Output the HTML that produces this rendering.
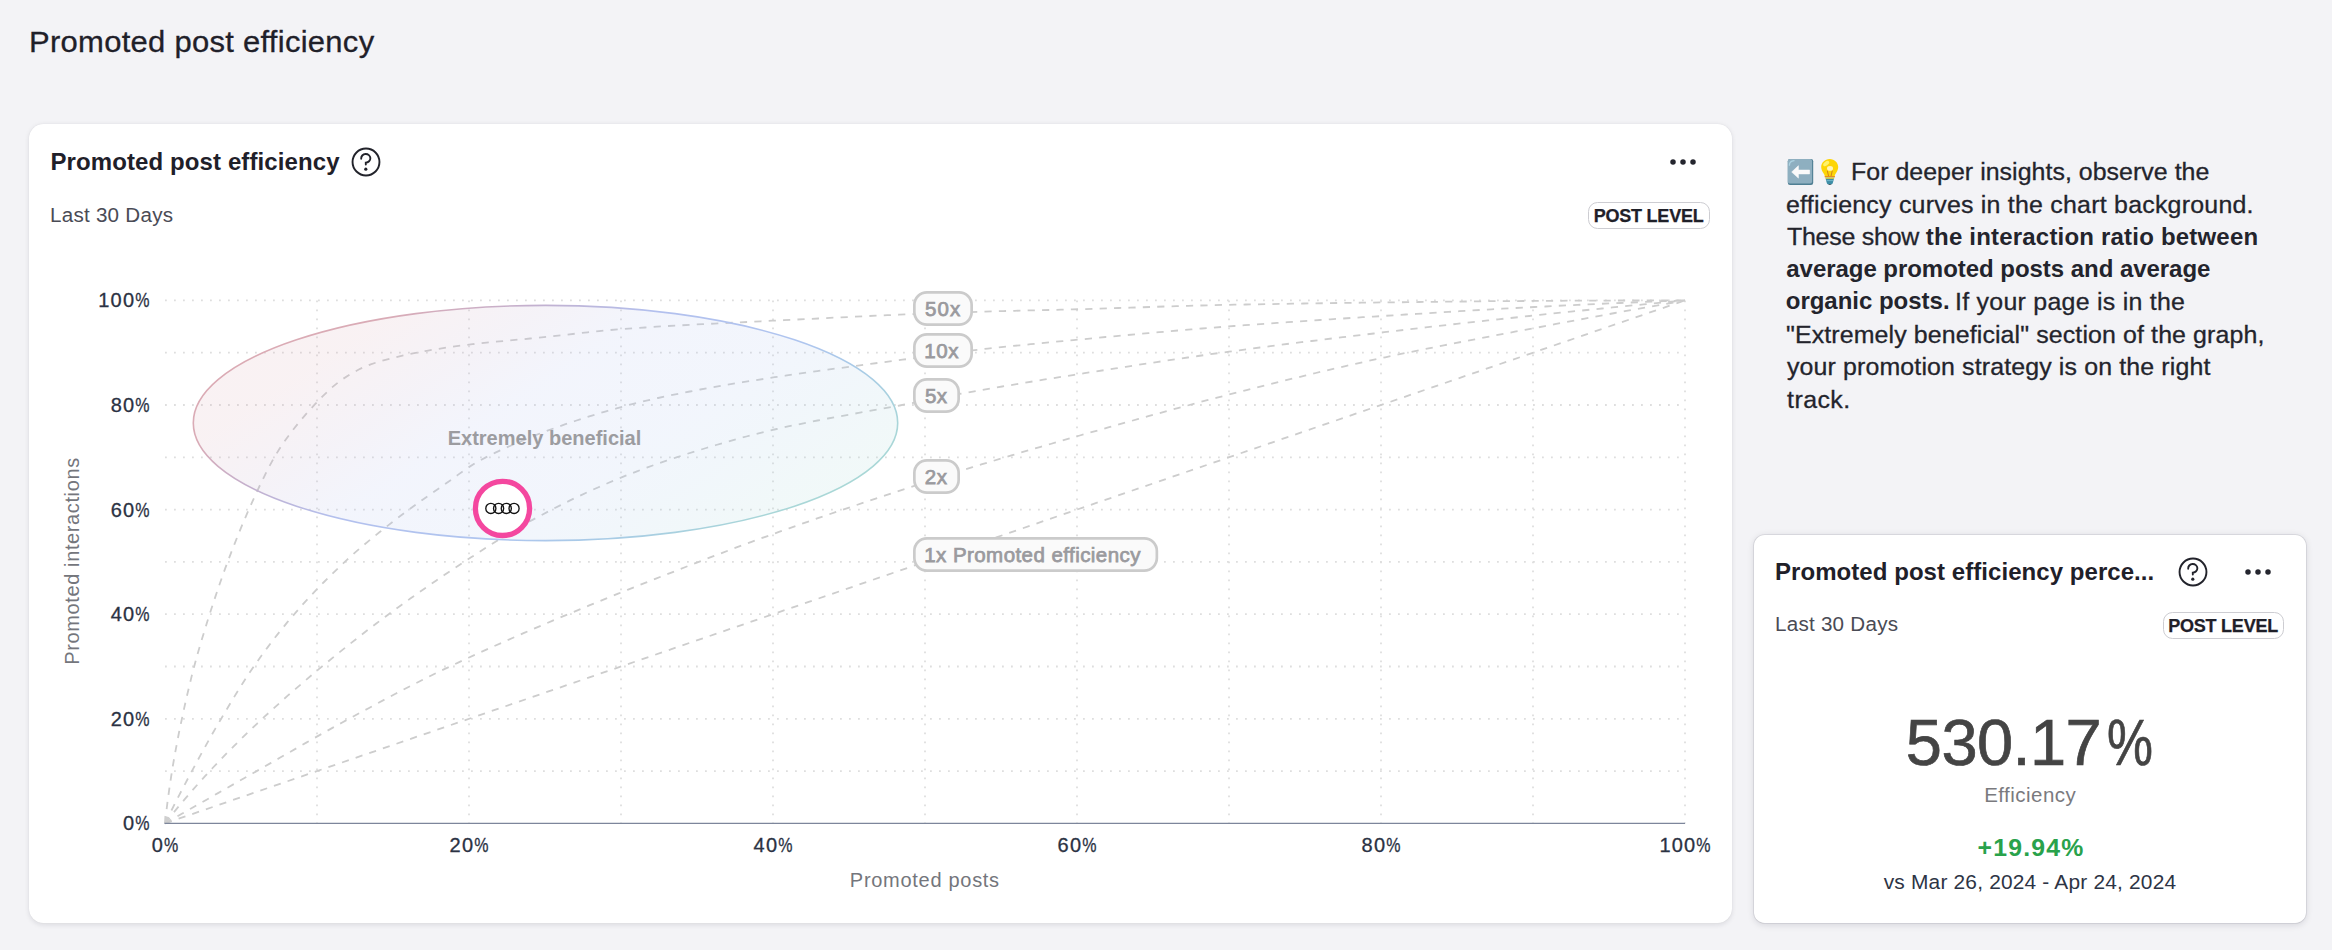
<!DOCTYPE html>
<html lang="en"><head><meta charset="utf-8"><title>Promoted post efficiency</title>
<style>
html,body{margin:0;padding:0}
body{width:2332px;height:950px;overflow:hidden;background:#f3f3f6;font-family:"Liberation Sans",Arial,sans-serif;position:relative}
.abs{position:absolute}
.t{position:absolute;white-space:nowrap;display:block}
.sr{position:absolute;left:1787px;top:160px;width:1px;height:1px;overflow:hidden;clip:rect(0 0 0 0);clip-path:inset(50%);white-space:nowrap;font-size:1px;opacity:0}
.k{-webkit-text-stroke:.3px currentColor}
.k1{-webkit-text-stroke:.25px currentColor}
.k2{-webkit-text-stroke:.7px currentColor}
.card{position:absolute;background:#fff;border-radius:14.4px;box-shadow:0 1.8px 5.4px rgba(15,15,35,.10),0 0 1px rgba(15,15,35,.10)}
.card.b{border-radius:10.8px;box-shadow:0 1.5px 7px rgba(15,15,35,.13),0 0 0 .8px rgba(15,15,35,.10)}
.chart{position:absolute;left:0;top:0}
.chart text{font-family:"Liberation Sans",Arial,sans-serif}
.badge{position:absolute;width:119.6px;height:24.6px;border:1px solid #cdcdd2;border-radius:9.5px;background:#fff}
h1,h2,p{margin:0;font-weight:400}
</style></head><body>
<h1><span class="t k" style="left:28.62px;top:24.08px;font-size:29.5px;line-height:35.4px;color:#1f2029;letter-spacing:0.270px;transform-origin:0 0;transform:scaleX(1.05);">Promoted post efficiency</span></h1>
<section class="card" style="left:29px;top:124px;width:1703px;height:799px"></section>
<section class="card b" style="left:1754px;top:535px;width:552.4px;height:388px"></section>
<h2><span class="t" style="left:50.44px;top:147.88px;font-size:24px;line-height:28.8px;color:#1f2029;letter-spacing:0.104px;font-weight:700;">Promoted post efficiency</span></h2>
<svg class="abs" style="left:350.30px;top:146.00px" width="32" height="32" viewBox="0 0 32 32" role="img" aria-label="Help"><g fill="none" stroke="#22232b" stroke-width="1.9"><circle cx="16" cy="16" r="13.45"/><path d="M11.2 12.7A4.6 4.3 0 1 1 15.8 16.6V18.6" stroke-linecap="round"/></g><circle cx="15.8" cy="23.2" r="1.6" fill="#22232b"/></svg>
<svg class="abs" style="left:1667.1px;top:156.1px" width="32" height="12" viewBox="0 0 32 12" role="img" aria-label="More"><circle cx="6" cy="6" r="2.75" fill="#24252e"/><circle cx="16" cy="6" r="2.75" fill="#24252e"/><circle cx="26" cy="6" r="2.75" fill="#24252e"/></svg>
<span class="t" style="left:50.25px;top:202.67px;font-size:20px;line-height:24.0px;color:#4a4b55;letter-spacing:0.244px;transform-origin:0 0;transform:scaleX(1.03);">Last 30 Days</span>
<div class="badge" style="left:1588px;top:202px"><span class="t k1" style="left:4.73px;top:2.76px;font-size:18px;line-height:21.6px;color:#1f2029;letter-spacing:-0.227px;font-weight:700;">POST LEVEL</span></div>
<svg class="chart" width="2332" height="950" viewBox="0 0 2332 950" role="img" aria-label="Promoted post efficiency chart">
<defs>
<linearGradient id="eg" x1="0" y1="0" x2="1.198" y2="0.614">
<stop offset="0" stop-color="#deabb2"/><stop offset="0.2" stop-color="#d9abb6"/><stop offset="0.33" stop-color="#c1b1d1"/><stop offset="0.44" stop-color="#b3c0ee"/><stop offset="0.62" stop-color="#afc5ef"/><stop offset="0.72" stop-color="#a8cbe6"/><stop offset="0.84" stop-color="#a9d6d8"/><stop offset="1" stop-color="#aaddd0"/>
</linearGradient>
</defs>
<g stroke="#dedede" stroke-width="1.8" stroke-dasharray="1.8 7.2" fill="none"><line x1="165.0" y1="771.1" x2="1685.0" y2="771.1"/><line x1="165.0" y1="718.8" x2="1685.0" y2="718.8"/><line x1="165.0" y1="666.5" x2="1685.0" y2="666.5"/><line x1="165.0" y1="614.2" x2="1685.0" y2="614.2"/><line x1="165.0" y1="561.9" x2="1685.0" y2="561.9"/><line x1="165.0" y1="509.6" x2="1685.0" y2="509.6"/><line x1="165.0" y1="457.3" x2="1685.0" y2="457.3"/><line x1="165.0" y1="405.0" x2="1685.0" y2="405.0"/><line x1="165.0" y1="352.7" x2="1685.0" y2="352.7"/><line x1="165.0" y1="300.4" x2="1685.0" y2="300.4"/><line x1="317.0" y1="300.4" x2="317.0" y2="823.4"/><line x1="469.0" y1="300.4" x2="469.0" y2="823.4"/><line x1="621.0" y1="300.4" x2="621.0" y2="823.4"/><line x1="773.0" y1="300.4" x2="773.0" y2="823.4"/><line x1="925.0" y1="300.4" x2="925.0" y2="823.4"/><line x1="1077.0" y1="300.4" x2="1077.0" y2="823.4"/><line x1="1229.0" y1="300.4" x2="1229.0" y2="823.4"/><line x1="1381.0" y1="300.4" x2="1381.0" y2="823.4"/><line x1="1533.0" y1="300.4" x2="1533.0" y2="823.4"/><line x1="1685.0" y1="300.4" x2="1685.0" y2="823.4"/></g>
<g stroke="#cdcdcd" stroke-width="1.8" stroke-dasharray="7.2 7.2" fill="none"><path d="M165.0,823.4 L1685.0,300.4"/><path d="M165.0,823.4 L173.8,818.3 L182.7,813.3 L191.5,808.2 L200.3,803.2 L209.2,798.2 L218.0,793.1 L226.8,788.1 L235.7,783.0 L244.5,778.0 L253.3,773.0 L262.2,768.0 L271.0,762.9 L279.8,757.8 L288.7,752.8 L297.5,747.7 L306.3,742.6 L315.1,737.6 L324.0,732.6 L332.9,727.6 L341.8,722.7 L350.7,717.8 L359.6,713.0 L368.6,708.2 L377.6,703.3 L386.5,698.5 L395.5,693.8 L404.6,689.0 L413.6,684.4 L422.7,679.8 L431.8,675.2 L440.9,670.8 L450.1,666.4 L459.2,662.1 L468.5,657.8 L477.7,653.6 L486.9,649.4 L496.2,645.2 L505.5,641.1 L514.8,637.0 L524.1,632.9 L533.5,628.9 L542.8,624.9 L552.2,620.9 L561.6,616.9 L571.0,613.0 L580.4,609.1 L589.8,605.2 L599.2,601.4 L608.6,597.5 L618.1,593.7 L627.5,589.9 L637.0,586.1 L646.4,582.4 L655.9,578.6 L665.4,574.9 L674.9,571.2 L684.3,567.5 L693.8,563.8 L703.3,560.1 L712.8,556.4 L722.3,552.8 L731.8,549.2 L741.3,545.6 L750.9,542.1 L760.4,538.6 L770.0,535.2 L779.6,531.7 L789.1,528.3 L798.7,524.9 L808.3,521.6 L817.9,518.2 L827.5,514.9 L837.2,511.6 L846.8,508.3 L856.4,505.1 L866.1,501.8 L875.7,498.6 L885.4,495.4 L895.0,492.2 L904.7,489.0 L914.4,485.9 L924.0,482.7 L933.7,479.5 L943.4,476.4 L953.1,473.3 L962.8,470.2 L972.5,467.2 L982.2,464.2 L991.9,461.3 L1001.7,458.3 L1011.4,455.4 L1021.2,452.5 L1030.9,449.7 L1040.7,446.8 L1050.5,444.0 L1060.2,441.1 L1070.0,438.3 L1079.8,435.5 L1089.6,432.7 L1099.4,430.0 L1109.1,427.2 L1118.9,424.4 L1128.7,421.7 L1138.5,418.9 L1148.3,416.2 L1158.1,413.5 L1167.9,410.8 L1177.8,408.1 L1187.6,405.5 L1197.4,402.8 L1207.2,400.2 L1217.1,397.7 L1226.9,395.1 L1236.8,392.6 L1246.6,390.1 L1256.5,387.6 L1266.4,385.1 L1276.2,382.7 L1286.1,380.2 L1296.0,377.8 L1305.9,375.4 L1315.8,373.0 L1325.7,370.7 L1335.6,368.4 L1345.5,366.1 L1355.4,363.8 L1365.3,361.6 L1375.3,359.4 L1385.2,357.3 L1395.1,355.2 L1405.1,353.1 L1415.1,351.1 L1425.0,349.1 L1435.0,347.1 L1445.0,345.1 L1455.0,343.2 L1465.0,341.2 L1475.0,339.3 L1485.0,337.4 L1495.0,335.5 L1504.9,333.6 L1514.9,331.7 L1524.9,329.9 L1534.9,328.0 L1544.9,326.1 L1554.9,324.2 L1564.9,322.3 L1574.9,320.4 L1584.9,318.6 L1594.9,316.7 L1604.9,314.9 L1614.9,313.0 L1624.9,311.2 L1634.9,309.4 L1644.9,307.6 L1655.0,305.8 L1665.0,304.0 L1675.0,302.2 L1685.0,300.4"/><path d="M165.0,823.4 L171.5,815.2 L178.1,807.1 L184.8,799.1 L191.6,791.2 L198.5,783.4 L205.5,775.7 L212.6,768.0 L219.7,760.5 L227.0,753.0 L234.4,745.6 L241.8,738.3 L249.3,731.0 L256.9,723.8 L264.5,716.7 L272.2,709.7 L279.9,702.7 L287.7,695.7 L295.6,688.9 L303.5,682.1 L311.5,675.3 L319.4,668.6 L327.5,662.0 L335.6,655.4 L343.7,648.9 L351.9,642.4 L360.1,635.9 L368.3,629.5 L376.6,623.2 L385.0,617.0 L393.4,610.8 L401.8,604.7 L410.3,598.6 L418.8,592.6 L427.4,586.6 L436.0,580.7 L444.6,574.8 L453.3,569.0 L462.0,563.3 L470.7,557.6 L479.5,551.9 L488.2,546.3 L497.1,540.7 L506.0,535.2 L514.9,529.8 L523.9,524.6 L533.0,519.6 L542.2,514.7 L551.4,509.8 L560.7,505.1 L570.1,500.4 L579.5,495.9 L589.0,491.5 L598.5,487.2 L608.1,483.0 L617.7,479.0 L627.3,475.1 L637.0,471.3 L646.8,467.6 L656.6,464.1 L666.5,460.7 L676.4,457.4 L686.3,454.1 L696.3,451.0 L706.2,448.0 L716.2,445.0 L726.3,442.0 L736.3,439.2 L746.4,436.5 L756.5,433.8 L766.6,431.4 L776.7,429.0 L786.9,426.7 L797.1,424.6 L807.3,422.5 L817.5,420.5 L827.8,418.5 L838.0,416.6 L848.3,414.8 L858.6,412.9 L868.9,411.1 L879.1,409.2 L889.4,407.4 L899.7,405.5 L909.9,403.5 L920.2,401.6 L930.4,399.5 L940.6,397.5 L950.9,395.5 L961.1,393.6 L971.4,391.8 L981.6,390.0 L991.9,388.2 L1002.2,386.5 L1012.5,384.8 L1022.8,383.1 L1033.1,381.4 L1043.4,379.7 L1053.7,378.1 L1064.0,376.5 L1074.3,374.8 L1084.6,373.2 L1094.9,371.6 L1105.2,370.0 L1115.5,368.4 L1125.8,366.8 L1136.1,365.2 L1146.4,363.6 L1156.7,362.1 L1167.1,360.5 L1177.4,359.0 L1187.7,357.5 L1198.0,356.0 L1208.3,354.5 L1218.7,353.1 L1229.0,351.7 L1239.3,350.3 L1249.7,348.9 L1260.0,347.5 L1270.4,346.2 L1280.7,344.8 L1291.0,343.5 L1301.4,342.2 L1311.7,341.0 L1322.1,339.7 L1332.5,338.4 L1342.8,337.2 L1353.2,335.9 L1363.5,334.7 L1373.9,333.5 L1384.2,332.2 L1394.6,331.0 L1404.9,329.8 L1415.3,328.6 L1425.7,327.4 L1436.0,326.2 L1446.4,325.0 L1456.8,323.9 L1467.1,322.7 L1477.5,321.6 L1487.9,320.4 L1498.2,319.3 L1508.6,318.2 L1519.0,317.1 L1529.3,316.0 L1539.7,314.9 L1550.1,313.8 L1560.5,312.7 L1570.8,311.6 L1581.2,310.6 L1591.6,309.5 L1602.0,308.5 L1612.3,307.4 L1622.7,306.4 L1633.1,305.4 L1643.5,304.4 L1653.9,303.4 L1664.2,302.4 L1674.6,301.4 L1685.0,300.4"/><path d="M165.0,823.4 L169.8,813.8 L174.6,804.2 L179.5,794.6 L184.5,785.1 L189.5,775.5 L194.6,766.1 L199.7,756.6 L204.9,747.2 L210.1,737.8 L215.5,728.4 L220.9,719.2 L226.4,709.9 L231.9,700.7 L237.5,691.5 L243.2,682.4 L249.1,673.4 L255.2,664.5 L261.4,655.7 L267.8,647.1 L274.3,638.5 L281.0,630.1 L287.8,621.7 L294.8,613.6 L301.8,605.5 L309.1,597.5 L316.5,589.7 L324.0,582.0 L331.6,574.4 L339.4,566.9 L347.2,559.6 L355.2,552.4 L363.4,545.4 L371.7,538.5 L380.0,531.8 L388.5,525.1 L397.0,518.5 L405.6,512.0 L414.2,505.7 L423.0,499.4 L431.8,493.3 L440.7,487.2 L449.5,481.0 L458.2,474.6 L467.1,468.3 L476.1,462.6 L485.4,457.6 L494.9,452.9 L504.6,448.4 L514.4,444.0 L524.3,439.8 L534.3,435.7 L544.4,431.8 L554.6,428.1 L564.8,424.4 L575.1,421.0 L585.5,417.6 L595.8,414.4 L606.1,411.3 L616.5,408.4 L626.8,405.5 L637.2,402.9 L647.6,400.4 L658.1,398.0 L668.7,395.7 L679.2,393.6 L689.8,391.5 L700.3,389.5 L710.9,387.6 L721.5,385.7 L732.1,383.9 L742.7,382.2 L753.4,380.5 L764.0,378.9 L774.6,377.2 L785.3,375.7 L795.9,374.1 L806.5,372.6 L817.2,371.1 L827.8,369.6 L838.5,368.2 L849.2,366.8 L859.8,365.3 L870.5,363.9 L881.2,362.5 L891.8,361.1 L902.5,359.7 L913.1,358.3 L923.8,356.8 L934.4,355.4 L945.1,353.9 L955.8,352.5 L966.4,351.1 L977.1,349.8 L987.8,348.6 L998.5,347.5 L1009.2,346.3 L1019.9,345.3 L1030.6,344.2 L1041.3,343.1 L1052.0,342.1 L1062.7,341.1 L1073.4,340.1 L1084.1,339.1 L1094.8,338.1 L1105.5,337.0 L1116.2,336.1 L1126.9,335.1 L1137.6,334.1 L1148.4,333.1 L1159.1,332.2 L1169.8,331.2 L1180.5,330.3 L1191.2,329.4 L1201.9,328.5 L1212.6,327.7 L1223.4,326.8 L1234.1,326.0 L1244.8,325.2 L1255.5,324.4 L1266.3,323.7 L1277.0,322.9 L1287.7,322.2 L1298.4,321.4 L1309.2,320.7 L1319.9,320.0 L1330.6,319.3 L1341.4,318.6 L1352.1,317.9 L1362.8,317.2 L1373.6,316.6 L1384.3,315.9 L1395.0,315.2 L1405.8,314.5 L1416.5,313.9 L1427.2,313.2 L1438.0,312.5 L1448.7,311.9 L1459.4,311.2 L1470.2,310.6 L1480.9,309.9 L1491.6,309.3 L1502.4,308.7 L1513.1,308.1 L1523.9,307.6 L1534.6,307.0 L1545.3,306.5 L1556.1,305.9 L1566.8,305.4 L1577.6,304.9 L1588.3,304.4 L1599.0,303.9 L1609.8,303.4 L1620.5,303.0 L1631.3,302.5 L1642.0,302.1 L1652.8,301.6 L1663.5,301.2 L1674.3,300.8 L1685.0,300.4"/><path d="M165.0,823.4 L166.3,811.9 L167.7,800.4 L169.3,789.0 L171.0,777.5 L172.8,766.1 L174.8,754.7 L176.9,743.4 L179.1,732.0 L181.5,720.7 L183.9,709.4 L186.4,698.1 L189.1,686.9 L191.8,675.6 L194.7,664.5 L197.8,653.3 L201.0,642.2 L204.4,631.1 L207.8,620.1 L211.3,609.1 L214.9,598.1 L218.6,587.1 L222.4,576.2 L226.3,565.4 L230.4,554.6 L234.6,543.8 L238.9,533.0 L243.3,522.3 L247.9,511.7 L252.6,501.1 L257.4,490.6 L262.4,480.2 L267.5,469.8 L273.0,459.6 L278.9,449.7 L285.3,440.2 L292.2,430.9 L299.4,421.8 L307.0,412.9 L314.8,404.4 L322.8,396.1 L331.3,388.0 L340.2,380.7 L349.8,374.5 L360.1,368.8 L370.7,364.3 L381.6,360.8 L392.9,358.0 L404.2,355.3 L415.5,352.9 L426.8,350.8 L438.2,348.9 L449.7,347.1 L461.1,345.6 L472.6,344.2 L484.1,342.9 L495.6,341.7 L507.1,340.7 L518.6,339.6 L530.1,338.5 L541.6,337.4 L553.1,336.1 L564.6,334.9 L576.1,333.6 L587.6,332.3 L599.1,331.1 L610.6,330.0 L622.1,329.1 L633.6,328.3 L645.2,327.5 L656.7,326.7 L668.2,326.0 L679.8,325.4 L691.3,324.7 L702.9,324.1 L714.4,323.6 L725.9,323.0 L737.5,322.4 L749.0,321.9 L760.6,321.3 L772.1,320.7 L783.7,320.2 L795.2,319.6 L806.8,319.0 L818.3,318.5 L829.9,317.9 L841.4,317.3 L853.0,316.8 L864.5,316.2 L876.1,315.7 L887.6,315.2 L899.2,314.7 L910.7,314.2 L922.3,313.7 L933.8,313.3 L945.4,312.9 L956.9,312.5 L968.5,312.1 L980.0,311.7 L991.6,311.4 L1003.1,311.1 L1014.7,310.8 L1026.2,310.5 L1037.8,310.3 L1049.3,310.0 L1060.9,309.7 L1072.5,309.4 L1084.0,309.1 L1095.6,308.8 L1107.1,308.4 L1118.7,308.0 L1130.2,307.7 L1141.8,307.3 L1153.3,306.9 L1164.9,306.5 L1176.4,306.2 L1188.0,305.8 L1199.5,305.5 L1211.1,305.2 L1222.7,304.9 L1234.2,304.7 L1245.8,304.5 L1257.3,304.3 L1268.9,304.1 L1280.4,303.9 L1292.0,303.7 L1303.6,303.5 L1315.1,303.3 L1326.7,303.2 L1338.2,303.0 L1349.8,302.9 L1361.4,302.7 L1372.9,302.6 L1384.5,302.4 L1396.0,302.3 L1407.6,302.2 L1419.1,302.0 L1430.7,301.9 L1442.3,301.7 L1453.8,301.6 L1465.4,301.5 L1476.9,301.4 L1488.5,301.2 L1500.1,301.1 L1511.6,301.1 L1523.2,301.0 L1534.7,300.9 L1546.3,300.9 L1557.8,300.8 L1569.4,300.7 L1581.0,300.7 L1592.5,300.6 L1604.1,300.6 L1615.6,300.5 L1627.2,300.5 L1638.8,300.5 L1650.3,300.4 L1661.9,300.4 L1673.4,300.4 L1685.0,300.4"/></g>
<ellipse cx="545.5" cy="423" rx="352.2" ry="117.6" fill="url(#eg)" fill-opacity="0.16" stroke="url(#eg)" stroke-width="1.6"/>
<path d="M164.5,815.8 L170.7,819.1 L164.5,823.4 Z" fill="#cfcfcf"/>
<line x1="164.5" y1="823.4" x2="1685.0" y2="823.4" stroke="#7d869b" stroke-width="1.2"/>
<g fill="#2b3243" stroke="#2b3243" stroke-width="0.3">
<text x="122.90" y="830.40" font-size="20" letter-spacing="1.15">0</text><text transform="translate(135.17 830.40) scale(0.8 1)" font-size="20">%</text>
<text x="151.75" y="851.50" font-size="20" letter-spacing="1.15">0</text><text transform="translate(164.02 851.50) scale(0.8 1)" font-size="20">%</text>
<text x="110.63" y="725.80" font-size="20" letter-spacing="1.15">20</text><text transform="translate(135.17 725.80) scale(0.8 1)" font-size="20">%</text>
<text x="449.61" y="851.50" font-size="20" letter-spacing="1.15">20</text><text transform="translate(474.16 851.50) scale(0.8 1)" font-size="20">%</text>
<text x="110.63" y="621.20" font-size="20" letter-spacing="1.15">40</text><text transform="translate(135.17 621.20) scale(0.8 1)" font-size="20">%</text>
<text x="753.61" y="851.50" font-size="20" letter-spacing="1.15">40</text><text transform="translate(778.16 851.50) scale(0.8 1)" font-size="20">%</text>
<text x="110.63" y="516.60" font-size="20" letter-spacing="1.15">60</text><text transform="translate(135.17 516.60) scale(0.8 1)" font-size="20">%</text>
<text x="1057.61" y="851.50" font-size="20" letter-spacing="1.15">60</text><text transform="translate(1082.16 851.50) scale(0.8 1)" font-size="20">%</text>
<text x="110.63" y="412.00" font-size="20" letter-spacing="1.15">80</text><text transform="translate(135.17 412.00) scale(0.8 1)" font-size="20">%</text>
<text x="1361.61" y="851.50" font-size="20" letter-spacing="1.15">80</text><text transform="translate(1386.16 851.50) scale(0.8 1)" font-size="20">%</text>
<text x="98.35" y="307.40" font-size="20" letter-spacing="1.15">100</text><text transform="translate(135.17 307.40) scale(0.8 1)" font-size="20">%</text>
<text x="1659.48" y="851.50" font-size="20" letter-spacing="1.15">100</text><text transform="translate(1696.30 851.50) scale(0.8 1)" font-size="20">%</text>
</g>
<text x="924.85" y="887.00" font-size="20" fill="#74767c" text-anchor="middle" letter-spacing="0.708">Promoted posts</text>
<text x="0.31" y="0.00" font-size="20" fill="#74767c" text-anchor="middle" letter-spacing="0.620" transform="translate(79.2 561.3) rotate(-90)">Promoted interactions</text>
<text x="544.51" y="445.00" font-size="20" fill="#9c9ca0" text-anchor="middle" letter-spacing="0.011" font-weight="700">Extremely beneficial</text>
<rect x="914.35" y="292.35" width="57.30" height="32.30" rx="12.6" ry="12.6" fill="#fafafa" stroke="#cbcbcb" stroke-width="2.7"/><text x="924.98" y="315.70" font-size="20.5" fill="#9a9a9e" text-anchor="start" letter-spacing="1.060" stroke="#9a9a9e" stroke-width="0.75">50x</text>
<rect x="914.35" y="334.35" width="57.30" height="32.30" rx="12.6" ry="12.6" fill="#fafafa" stroke="#cbcbcb" stroke-width="2.7"/><text x="924.26" y="357.70" font-size="20.5" fill="#9a9a9e" text-anchor="start" letter-spacing="0.619" stroke="#9a9a9e" stroke-width="0.75">10x</text>
<rect x="914.35" y="379.35" width="44.30" height="32.30" rx="12.6" ry="12.6" fill="#fafafa" stroke="#cbcbcb" stroke-width="2.7"/><text x="924.98" y="402.70" font-size="20.5" fill="#9a9a9e" text-anchor="start" letter-spacing="0.498" stroke="#9a9a9e" stroke-width="0.75">5x</text>
<rect x="914.35" y="460.35" width="44.30" height="32.30" rx="12.6" ry="12.6" fill="#fafafa" stroke="#cbcbcb" stroke-width="2.7"/><text x="924.77" y="483.70" font-size="20.5" fill="#9a9a9e" text-anchor="start" letter-spacing="0.703" stroke="#9a9a9e" stroke-width="0.75">2x</text>
<rect x="914.35" y="538.35" width="242.50" height="32.30" rx="12.6" ry="12.6" fill="#fafafa" stroke="#cbcbcb" stroke-width="2.7"/><text x="924.26" y="561.70" font-size="20.5" fill="#9a9a9e" text-anchor="start" letter-spacing="0.437" stroke="#9a9a9e" stroke-width="0.75">1x Promoted efficiency</text>
<circle cx="502.5" cy="508.4" r="27.1" fill="#ffffff" stroke="#f4479f" stroke-width="5.3"/>
<g fill="none" stroke="#111" stroke-width="1.35"><circle cx="490.85" cy="508.4" r="5.05"/><circle cx="498.60" cy="508.4" r="5.05"/><circle cx="506.30" cy="508.4" r="5.05"/><circle cx="514.05" cy="508.4" r="5.05"/></g>
</svg>
<h2><span class="t" style="left:1775.04px;top:557.88px;font-size:24px;line-height:28.8px;color:#1f2029;letter-spacing:0.054px;font-weight:700;">Promoted post efficiency perce...</span></h2>
<svg class="abs" style="left:2176.60px;top:556.30px" width="32" height="32" viewBox="0 0 32 32" role="img" aria-label="Help"><g fill="none" stroke="#22232b" stroke-width="1.9"><circle cx="16" cy="16" r="13.45"/><path d="M11.2 12.7A4.6 4.3 0 1 1 15.8 16.6V18.6" stroke-linecap="round"/></g><circle cx="15.8" cy="23.2" r="1.6" fill="#22232b"/></svg>
<svg class="abs" style="left:2241.6px;top:566.3px" width="32" height="12" viewBox="0 0 32 12" role="img" aria-label="More"><circle cx="6" cy="6" r="2.75" fill="#24252e"/><circle cx="16" cy="6" r="2.75" fill="#24252e"/><circle cx="26" cy="6" r="2.75" fill="#24252e"/></svg>
<span class="t" style="left:1774.65px;top:612.47px;font-size:20px;line-height:24.0px;color:#4a4b55;letter-spacing:0.244px;transform-origin:0 0;transform:scaleX(1.03);">Last 30 Days</span>
<div class="badge" style="left:2162.5px;top:612.4px"><span class="t k1" style="left:4.73px;top:2.76px;font-size:18px;line-height:21.6px;color:#1f2029;letter-spacing:-0.227px;font-weight:700;">POST LEVEL</span></div>
<span class="t k2" style="left:1905.80px;top:703.78px;font-size:65px;line-height:78.0px;color:#444444;letter-spacing:-0.570px;">530.17</span>
<span class="t k2" style="left:2106.99px;top:703.78px;font-size:65px;line-height:78.0px;color:#444444;transform-origin:0 0;transform:scaleX(0.795);">%</span>
<span class="t" style="left:2030.00px;top:782.50px;font-size:20.5px;line-height:24.6px;color:#7a7a7e;letter-spacing:0.479px;margin-left:0.24px;transform:translateX(-50%);">Efficiency</span>
<span class="t" style="left:2030.00px;top:833.65px;font-size:23.4px;line-height:28.08px;color:#29a24b;letter-spacing:1.103px;font-weight:700;margin-left:0.58px;transform-origin:50% 0;transform:translateX(-50%) scaleX(1.06);">+19.94%</span>
<span class="t" style="left:2030.20px;top:870.20px;font-size:20.5px;line-height:24.6px;color:#2d3445;letter-spacing:0.177px;margin-left:0.09px;transform-origin:50% 0;transform:translateX(-50%) scaleX(1.02);">vs Mar 26, 2024 - Apr 24, 2024</span>
<p><span class="sr">&#x2B05;&#xFE0F;&#x1F4A1;</span><svg class="abs" style="left:1787px;top:158px" width="54" height="29" viewBox="0 -1 54 29" aria-hidden="true">
<rect x="0.8" y="0" width="25.4" height="25.9" rx="2.2" fill="#4f7f93"/>
<rect x="0.8" y="0" width="24.3" height="24.6" rx="2" fill="#8eafc0"/>
<path d="M2.4 6.2C2.5 3.6 3.8 2 7 1.7" fill="none" stroke="#add3e2" stroke-width="1.3" stroke-linecap="round"/>
<path d="M4.7 13 L11.4 6.7 V11.1 H22.6 V14.9 H11.4 V19.1 Z" fill="#fafafa" stroke="#fafafa" stroke-width="0.6" stroke-linejoin="round"/>
<path d="M42.7 -0.1c-4.800 0-8.500 3.600-8.500 8.200 0 2.700 1.200 4.500 2.300 6.200.7 1.000 1.200 1.900 1.300 2.900h9.800c.1-1.000.6-1.900 1.300-2.900 1.100-1.700 2.300-3.500 2.300-6.200 0-4.600-3.700-8.200-8.500-8.200z" fill="#fdd506"/>
<ellipse cx="39.2" cy="4.6" rx="3.5" ry="1.9" transform="rotate(-38 39.2 4.6)" fill="#fff36b"/>
<ellipse cx="43" cy="9.4" rx="3" ry="2.4" fill="#fff5b8"/>
<path d="M41.6 17.2 40.400 12.100M44 17.2 45.200 12.100" fill="none" stroke="#c9781f" stroke-width="0.9" stroke-linecap="round"/>
<rect x="37.7" y="17" width="10.2" height="1.300" fill="#ea8d1b"/>
<path d="M38.2 18.3h9.200l-.4 1.600h-8.400z" fill="#c6c452"/>
<path d="M38.7 19.900h8.200l-1.100 4.200c-.3 1.100-1.200 1.700-3 1.700s-2.700-.6-3-1.700z" fill="#3d8da6"/>
<path d="M39.6 21.6h6.400" stroke="#7fc0d2" stroke-width="0.8" fill="none"/>
<path d="M41.2 25.300h3.200c-.3.500-.9.700-1.600.7s-1.300-.2-1.600-.7z" fill="#3b3b3b"/>
</svg><span class="t k" style="left:1850.51px;top:157.49px;font-size:24.2px;line-height:29.04px;color:#23242c;letter-spacing:0.033px;transform-origin:0 0;transform:scaleX(1.03);">For deeper insights, observe the</span> <span class="t k" style="left:1786.00px;top:189.92px;font-size:24.2px;line-height:29.04px;color:#23242c;letter-spacing:0.227px;transform-origin:0 0;transform:scaleX(1.03);">efficiency curves in the chart background.</span> <span class="t k" style="left:1786.50px;top:222.35px;font-size:24.2px;line-height:29.04px;color:#23242c;letter-spacing:-0.224px;transform-origin:0 0;transform:scaleX(1.03);">These show</span> <span class="t" style="left:1925.86px;top:222.54px;font-size:24px;line-height:28.8px;color:#23242c;letter-spacing:0.197px;font-weight:700;">the interaction ratio between</span> <span class="t" style="left:1786.28px;top:254.97px;font-size:24px;line-height:28.8px;color:#23242c;letter-spacing:-0.042px;font-weight:700;">average promoted posts and average</span> <span class="t" style="left:1785.74px;top:287.40px;font-size:24px;line-height:28.8px;color:#23242c;letter-spacing:-0.015px;font-weight:700;">organic posts.</span> <span class="t k" style="left:1954.56px;top:287.21px;font-size:24.2px;line-height:29.04px;color:#23242c;letter-spacing:0.258px;transform-origin:0 0;transform:scaleX(1.03);">If your page is in the</span> <span class="t k" style="left:1786.40px;top:319.64px;font-size:24.2px;line-height:29.04px;color:#23242c;letter-spacing:0.114px;transform-origin:0 0;transform:scaleX(1.03);">&quot;Extremely beneficial&quot; section of the graph,</span> <span class="t k" style="left:1787.00px;top:352.07px;font-size:24.2px;line-height:29.04px;color:#23242c;letter-spacing:0.131px;transform-origin:0 0;transform:scaleX(1.03);">your promotion strategy is on the right</span> <span class="t k" style="left:1786.63px;top:384.50px;font-size:24.2px;line-height:29.04px;color:#23242c;letter-spacing:0.441px;transform-origin:0 0;transform:scaleX(1.03);">track.</span> </p>
</body></html>
